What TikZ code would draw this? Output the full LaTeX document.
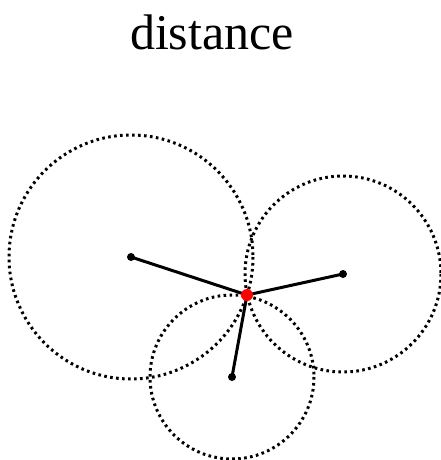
\documentclass[tikz,border=0pt]{standalone}
\usepackage{fontspec}
\setmainfont{Liberation Serif}
\begin{document}
\begin{tikzpicture}[x=1pt,y=-1pt,
  ring/.style={line width=3pt,dash pattern=on 2.6pt off 3.4pt},
  spoke/.style={line width=3pt},
  enddot/.style={fill=black}]
\useasboundingbox (0,0) rectangle (440,460);
\node (title) at (212,32) {\fontsize{50}{60}\selectfont distance};
\coordinate (a) at (131,257);
\coordinate (b) at (343,274);
\coordinate (c) at (232,377);
\coordinate (p) at (247,295);
\draw[ring] (a) circle[radius=122];
\draw[ring] (b) circle[radius=98];
\draw[ring] (c) circle[radius=82];
\draw[spoke] (a) -- (p);
\draw[spoke] (b) -- (p);
\draw[spoke] (c) -- (p);
\fill[enddot] (a) circle[radius=4];
\fill[enddot] (b) circle[radius=4];
\fill[enddot] (c) circle[radius=4];
\fill[red] (p) circle[radius=6];
\end{tikzpicture}
\end{document}
